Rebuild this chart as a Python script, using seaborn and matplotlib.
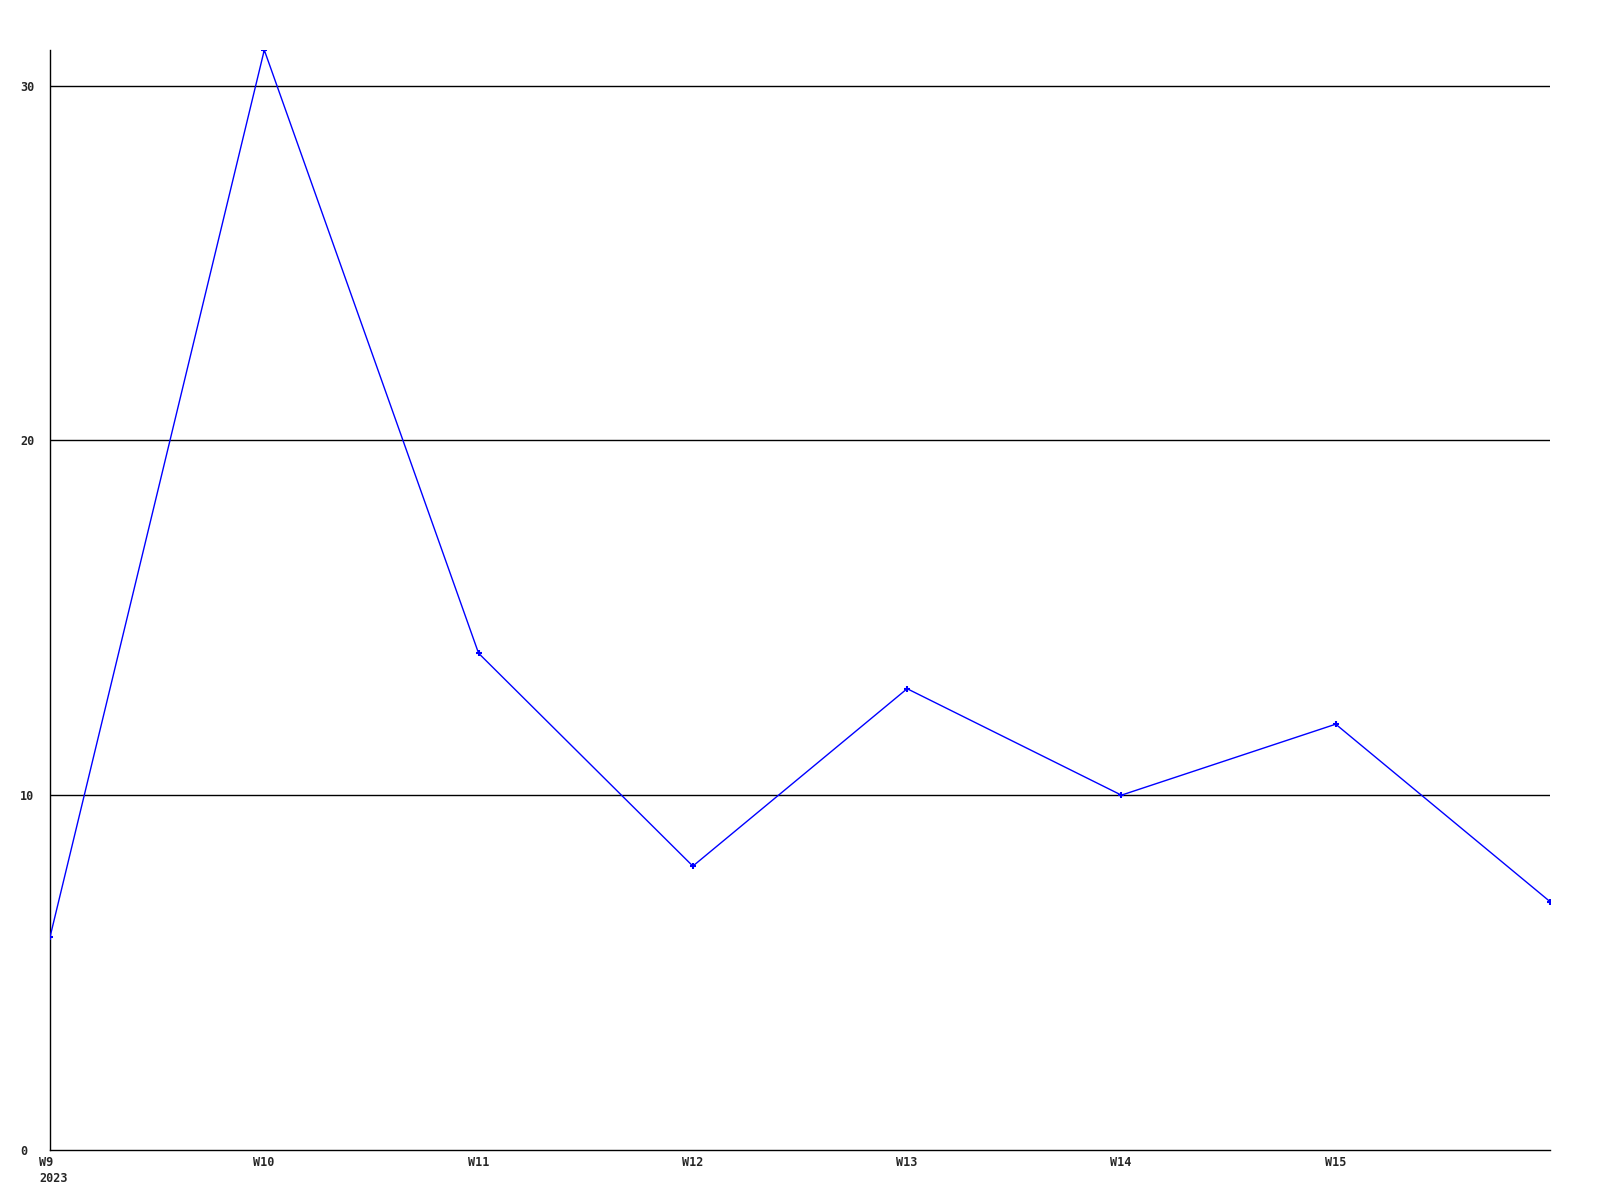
import matplotlib
matplotlib.use('Agg')
import matplotlib.pyplot as plt
import matplotlib.transforms as mtransforms
import pandas as pd
import seaborn as sns

# weekly values
weeks = [9, 10, 11, 12, 13, 14, 15, 16]
week_labels = ['W9\n2023', 'W10', 'W11', 'W12', 'W13', 'W14', 'W15']
values = [6, 31, 14, 8, 13, 10, 12, 7]
y_ticks = [0, 10, 20, 30]

df = pd.DataFrame({'week': weeks, 'value': values})

sns.set_style('white')
plt.rcParams['font.family'] = ['DejaVu Sans Mono']
plt.rcParams['font.weight'] = 'bold'

fig = plt.figure(figsize=(16, 12), dpi=100)
ax = fig.add_axes([0.03125, 0.0417, 0.9375, 0.9166])

# horizontal grid lines
for yv in y_ticks[1:]:
    ax.axhline(yv, color='black', linewidth=1, zorder=1)

sns.lineplot(data=df, x='week', y='value', ax=ax, color='#0000ff', linewidth=1,
             marker='+', markersize=5, markeredgewidth=1.5,
             markeredgecolor='#0000ff', zorder=3)

ax.set_xlim(9, 16)
ax.set_ylim(0, 31)
ax.set_xlabel('')
ax.set_ylabel('')

# x labels: left aligned, shifted a bit left of the tick position
ax.set_xticks(weeks[:-1])
ax.set_xticklabels([])
trans = mtransforms.blended_transform_factory(ax.transData, ax.transAxes)
trans = trans + mtransforms.ScaledTranslation(-11 / 100, -6 / 100, fig.dpi_scale_trans)
for wk, lbl in zip(weeks, week_labels):
    ax.text(wk, 0, lbl, transform=trans, ha='left', va='top', fontsize=8.5,
            fontweight='bold', linespacing=1.35)

# y labels: left aligned, ~30px left of the axis
ax.set_yticks(y_ticks)
ax.set_yticklabels([str(t) for t in y_ticks], fontsize=8.5, fontweight='bold', ha='left')
ax.tick_params(axis='both', length=0)
ax.tick_params(axis='y', pad=21.6)

for side in ['top', 'right']:
    ax.spines[side].set_visible(False)
for side in ['left', 'bottom']:
    ax.spines[side].set_color('black')
    ax.spines[side].set_linewidth(1)

fig.savefig('out.png', dpi=100, facecolor='white')
